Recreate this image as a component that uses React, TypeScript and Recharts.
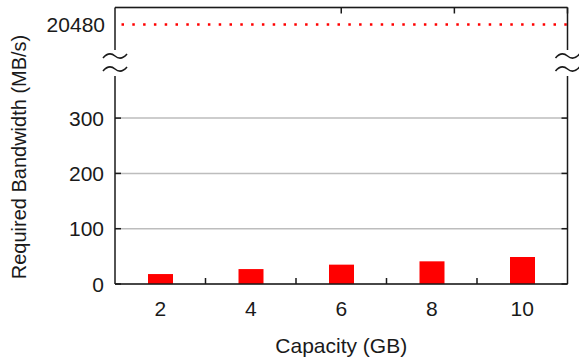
import {
  Bar,
  BarChart,
  CartesianGrid,
  ReferenceLine,
  XAxis,
  YAxis,
} from "recharts";

// capacity (GB) on x, required bandwidth (MB/s) on y
const capacities = [2, 4, 6, 8, 10];
const bandwidth = [18, 27, 35, 41, 49];
const groupEdges = [3, 5, 7, 9];
const yTicks = [0, 100, 200, 300];
const peakBandwidth = 20480;

const data = capacities.map((c, i) => ({ capacity: c, bandwidth: bandwidth[i] }));
const xTicks = [...capacities, ...groupEdges].sort((a, b) => a - b);

const FONT = "'Liberation Sans', Arial, sans-serif";
const FS = 21;
const INK = "#1a1a1a";
const frame = { stroke: INK, strokeWidth: 1.5 };
const TICK = 6;

// even values get a label, odd ones (group edges) just a small inward tick
const BottomTick = (props: any) => {
  const { x, y, payload } = props;
  if (payload.value % 2 === 1) {
    return <line x1={x} x2={x} y1={y} y2={y - TICK} stroke={INK} strokeWidth={1.5} />;
  }
  return (
    <text x={x} y={y + 32} textAnchor="middle" fontSize={FS} fontFamily={FONT} fill={INK}>
      {payload.value}
    </text>
  );
};

const LeftTick = (props: any) => {
  const { x, y, payload } = props;
  return (
    <g>
      <line x1={x} x2={x + TICK} y1={y} y2={y} stroke={INK} strokeWidth={1.5} />
      <text x={x - 11} y={y} dy="0.36em" textAnchor="end" fontSize={FS} fontFamily={FONT} fill={INK}>
        {payload.value}
      </text>
    </g>
  );
};

const RightTick = (props: any) => (
  <line x1={props.x - TICK} x2={props.x} y1={props.y} y2={props.y} stroke={INK} strokeWidth={1.5} />
);

const TopTick = (props: any) => (
  <line x1={props.x} x2={props.x} y1={props.y} y2={props.y + TICK} stroke={INK} strokeWidth={1.5} />
);

// the "≈" axis break drawn over both side axes
const AxisBreak = ({ x }: { x: number }) => (
  <g>
    <rect x={x - 4} y={50} width={8} height={26} fill="#fff" />
    <path d={`M${x - 12},${58} Q${x - 6},${51} ${x},${56} T${x + 12},${54}`} fill="none" stroke={INK} strokeWidth={1.6} />
    <path d={`M${x - 12},${71} Q${x - 6},${64} ${x},${69} T${x + 12},${67}`} fill="none" stroke={INK} strokeWidth={1.6} />
  </g>
);

export default function App() {
  return (
    <div style={{ position: "absolute", left: 0, top: 0, width: 579, height: 360, background: "#fff" }}>
      <BarChart
        width={579}
        height={360}
        data={data}
        margin={{ top: 6.5, right: 10.5, bottom: 4, left: 55 }}
        style={{ fontFamily: FONT }}
      >
        <CartesianGrid vertical={false} stroke="#bdbdbd" strokeWidth={1.5} xAxisId="bottom" yAxisId="left" />
        <XAxis
          xAxisId="bottom"
          dataKey="capacity"
          type="number"
          domain={[1, 11]}
          allowDataOverflow
          ticks={xTicks}
          interval={0}
          height={72}
          tickSize={0}
          tickMargin={0}
          tickLine={false}
          tick={<BottomTick />}
          axisLine={frame}
          label={{ value: "Capacity (GB)", position: "insideBottom", offset: 3, fontSize: FS, fill: INK, fontFamily: FONT }}
        />
        <XAxis
          xAxisId="top"
          orientation="top"
          type="number"
          domain={[1, 11]}
          allowDataOverflow
          ticks={xTicks}
          interval={0}
          height={1}
          tickSize={0}
          tickMargin={0}
          tickLine={false}
          tick={<TopTick />}
          axisLine={frame}
        />
        <YAxis
          yAxisId="left"
          domain={[0, 500]}
          allowDataOverflow
          ticks={yTicks}
          interval={0}
          width={60}
          tickSize={0}
          tickMargin={0}
          tickLine={false}
          tick={<LeftTick />}
          axisLine={frame}
        />
        <YAxis
          yAxisId="right"
          orientation="right"
          domain={[0, 500]}
          allowDataOverflow
          ticks={yTicks}
          interval={0}
          width={1}
          tickSize={0}
          tickMargin={0}
          tickLine={false}
          tick={<RightTick />}
          axisLine={frame}
        />
        <YAxis yAxisId="peak" hide type="number" domain={[20220, 20497]} allowDataOverflow />
        <ReferenceLine
          xAxisId="bottom"
          yAxisId="peak"
          y={peakBandwidth}
          ifOverflow="visible"
          stroke="#ff0000"
          strokeWidth={2.5}
          strokeDasharray="2.5 8.3"
          strokeDashoffset={-6.5}
          label={{ value: String(peakBandwidth), position: "left", offset: 10, fontSize: FS, fill: INK, fontFamily: FONT }}
        />
        <Bar
          xAxisId="bottom"
          yAxisId="left"
          dataKey="bandwidth"
          fill="#ff0000"
          barSize={25}
          isAnimationActive={false}
        />
      </BarChart>
      <svg width={579} height={360} style={{ position: "absolute", left: 0, top: 0, pointerEvents: "none" }}>
        <AxisBreak x={115} />
        <AxisBreak x={567.5} />
        <text
          transform="translate(19,157) rotate(-90)"
          textAnchor="middle"
          dy="0.35em"
          fontSize={20}
          fontFamily={FONT}
          fill={INK}
        >
          Required Bandwidth (MB/s)
        </text>
      </svg>
    </div>
  );
}
